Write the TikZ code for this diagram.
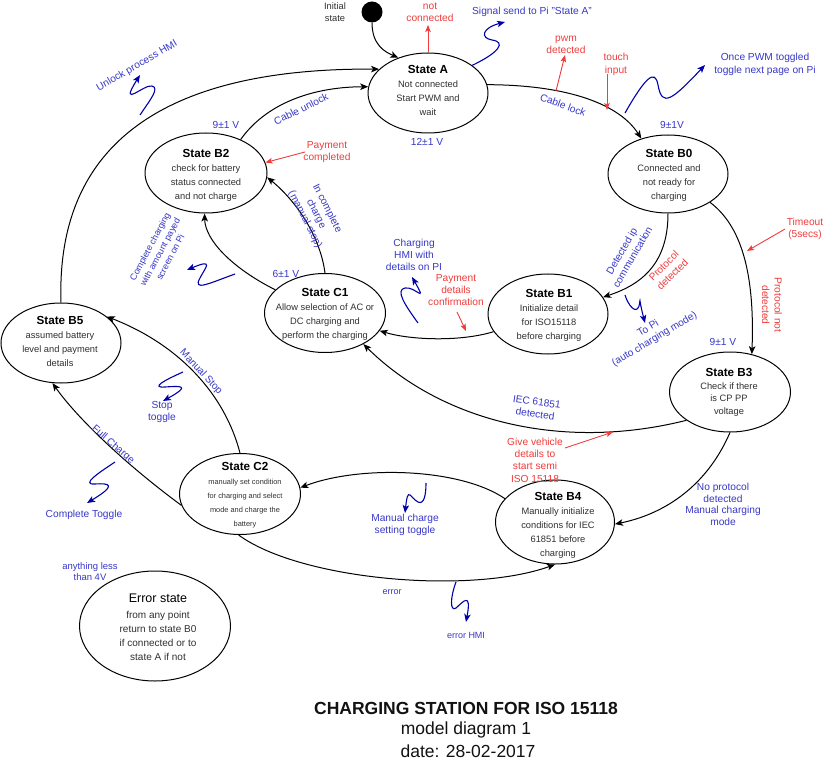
\documentclass[tikz,border=0pt]{standalone}
\usepackage{fontspec}
\setmainfont{Liberation Sans}
\usetikzlibrary{arrows.meta,shapes.geometric}
\definecolor{blueT}{HTML}{3838C8}
\definecolor{sqB}{HTML}{0000AA}
\definecolor{redT}{HTML}{F03C3C}
\definecolor{bodyT}{HTML}{303030}
\newcommand\mysttl[1]{{\fontsize{11.7}{14}\selectfont\bfseries\color{black}#1}}
\begin{document}
\begin{tikzpicture}[x=1pt,y=-1pt,
  stel/.style={draw=black, line width=1pt, ellipse, inner sep=0pt},
  stxt/.style={align=center, text=bodyT, inner sep=0pt, font=\fontsize{9.3}{14}\selectfont},
  bl/.style={align=center, text=blueT, inner sep=1pt, font=\fontsize{10.2}{12.3}\selectfont},
  rd/.style={align=center, text=redT, inner sep=1pt, font=\fontsize{10.2}{12.3}\selectfont},
  conn/.style={draw=black, line width=1pt, -{Stealth[length=8pt,width=6.5pt,inset=2pt]}},
  sq/.style={draw=sqB, line width=1.1pt, -{Stealth[length=8pt,width=6.5pt,inset=2pt]}},
  ra/.style={draw=redT, line width=0.9pt, -{Stealth[length=7pt,width=5.5pt,inset=1.5pt]}},
  bigt/.style={align=center, text=black!93, inner sep=0pt, font=\fontsize{17.5}{21}\selectfont}
]
\useasboundingbox[fill=white] (0,0) rectangle (826,775);

% initial state
\node[circle, fill=black, minimum size=21pt, inner sep=0pt] (init) at (372,12) {};
\node[stxt, font=\fontsize{9.3}{12}\selectfont] (initT) at (335,12) {Initial\\state};

% states
\node[stel, minimum width=120pt, minimum height=80pt] (A) at (428,93) {};
\node[stxt] (At) at (428,90.5) {\mysttl{State A}\\Not connected\\Start PWM and\\wait};

\node[stel, minimum width=120pt, minimum height=78pt] (B0) at (668,174) {};
\node[stxt] (B0t) at (669,175.5) {\mysttl{State B0}\\Connected and\\not ready for\\charging};

\node[stel, minimum width=122pt, minimum height=80pt] (B2) at (206,173) {};
\node[stxt] (B2t) at (206,175.5) {\mysttl{State B2}\\check for battery\\status connected\\and not charge};

\node[stel, minimum width=121pt, minimum height=79pt] (C1) at (325,313) {};
\node[stxt] (C1t) at (325,314.5) {\mysttl{State C1}\\Allow selection of AC or\\DC charging and\\perform the charging};

\node[stel, minimum width=120pt, minimum height=80pt] (B1) at (548,314) {};
\node[stxt] (B1t) at (549,315.5) {\mysttl{State B1}\\Initialize detail\\for ISO15118\\before charging};

\node[stel, minimum width=121pt, minimum height=80pt] (B3) at (730,392) {};
\node[stxt, font=\fontsize{9.3}{12.2}\selectfont] (B3t) at (729,392) {\mysttl{State B3}\\[1.5pt]Check if there\\is CP PP\\voltage};

\node[stel, minimum width=120pt, minimum height=80pt] (B5) at (61,343) {};
\node[stxt] (B5t) at (60,341.5) {\mysttl{State B5}\\assumed battery\\level and payment\\details};

\node[stel, minimum width=121pt, minimum height=81pt] (C2) at (240,494) {};
\node[stxt, font=\fontsize{7.4}{14}\selectfont] (C2t) at (245,495.5) {\mysttl{State C2}\\manually set condition\\for charging and select\\mode and charge the\\battery};

\node[stel, minimum width=119pt, minimum height=84pt] (B4) at (555,522) {};
\node[stxt] (B4t) at (558,525.5) {\mysttl{State B4}\\Manually initialize\\conditions for IEC\\61851 before\\charging};

\node[stel, minimum width=151pt, minimum height=110pt] (Er) at (155,626) {};
\node[stxt, font=\fontsize{10}{14}\selectfont] (Ert) at (158,627) {{\fontsize{12.5}{14}\selectfont\color{black}Error state}\\[2pt]from any point\\return to state B0\\if connected or to\\state A if not};

% main transitions
\draw[conn] (init.south) .. controls (372,45) and (385,52) .. (A.130);
\draw[conn] (B5.north) .. controls (55,120) and (200,68) .. (A.154);
\draw[conn] (B2.44) .. controls (265,105) and (310,87) .. (A.174);
\draw[conn] (A.8) .. controls (570,85) and (620,105) .. (B0.127);
\draw[conn] (B0.270) .. controls (668,265) and (640,285) .. (B1.17);
\draw[conn] (B0.-34) .. controls (740,225) and (755,270) .. (B3.60);
\draw[conn] (B1.198) .. controls (460,342) and (410,340) .. (C1.-18);
\draw[conn] (C1.155) .. controls (232,268) and (205,240) .. (B2.268);
\draw[conn] (C1.90) .. controls (320,235) and (295,200) .. (B2.-4);
\draw[conn] (C2.90) .. controls (225,395) and (180,345) .. (B5.30);
\draw[conn] (C2.191) .. controls (120,460) and (75,415) .. (B5.258);
\draw[conn] (B3.213) .. controls (560,452) and (440,420) .. (C1.-39);
\draw[conn] (B3.270) .. controls (705,490) and (660,515) .. (B4.-2);
\draw[conn] (B4.155) .. controls (460,468) and (360,465) .. (C2.6);
\draw[conn] (C2.268) .. controls (300,580) and (470,595) .. (B4.270);

% blue labels
\node[bl] (sigA) at (532,12) {Signal send to Pi "State A"};
\node[bl] (onceP) at (765,64.5) {Once PWM toggled\\toggle next page on Pi};
\node[bl] (v12) at (427,142) {12±1 V};
\node[bl] (v9a) at (672,125) {9±1V};
\node[bl] (v9b) at (226,125) {9±1 V};
\node[bl] (v6) at (286,274) {6±1 V};
\node[bl] (v9c) at (723,342) {9±1 V};
\node[bl, rotate=30] (unl) at (137,66) {Unlock process HMI};
\node[bl, rotate=26] (cunl) at (301,109) {Cable unlock};
\node[bl, rotate=-20] (clk) at (563,105) {Cable lock};
\node[bl, rotate=-63] (incmp) at (316,214) {In complete\\charge\\(manual stop)};
\node[bl, rotate=62, font=\fontsize{9}{11.5}\selectfont] (cchg) at (160,252) {Complete charging\\with amount payed\\screen on Pi};
\node[bl] (chmi) at (414,255) {Charging\\HMI with\\details on PI};
\node[bl, rotate=60] (detip) at (627,254) {Detected ip\\communication};
\node[bl, rotate=31] (topi) at (651.5,334) {To Pi\\(auto charging mode)};
\node[bl, rotate=-8] (iec) at (536,408) {IEC 61851\\detected};
\node[bl, font=\fontsize{10.2}{11.7}\selectfont] (nopr) at (723,504.5) {No protocol\\detected\\Manual charging\\mode};
\node[bl, rotate=-47] (mstop) at (201,372) {Manual Stop};
\node[bl] (stoptg) at (162,412) {Stop\\toggle};
\node[bl, rotate=-41] (fullc) at (113,445) {Full Charge};
\node[bl] (ctog) at (84,515) {Complete Toggle};
\node[bl] (mcst) at (405,525) {Manual charge\\setting toggle};
\node[bl, font=\fontsize{9}{11}\selectfont] (errl) at (392,592) {error};
\node[bl, font=\fontsize{9}{11}\selectfont] (errhmi) at (466,635) {error HMI};
\node[bl, font=\fontsize{9.5}{11}\selectfont] (anyl) at (90,572) {anything less\\than 4V};

% red labels
\node[rd] (nc) at (430,12) {not\\connected};
\node[rd] (pwm) at (566,45) {pwm\\detected};
\node[rd] (tch) at (616,64.5) {touch\\input};
\node[rd] (paycomp) at (327,152) {Payment\\completed};
\node[rd] (paydet) at (456,290) {Payment\\details\\confirmation};
\node[rd, rotate=45] (protd) at (668,270) {Protocol\\detected};
\node[rd] (tmo) at (805,229) {Timeout\\(5secs)};
\node[rd, rotate=-90] (protnd) at (772,305) {Protocol not\\detected};
\node[rd] (give) at (535,460) {Give vehicle\\details to\\start semi\\ISO 15118};

% red annotation arrows
\coordinate (ncH) at (428,25);
\coordinate (pwmT) at (556,91);
\coordinate (pwmH) at (565,55);
\coordinate (tchT) at (607,74);
\coordinate (tchH) at (607,110);
\coordinate (pcT) at (305,152);
\coordinate (pdT) at (457,312);
\coordinate (pdH) at (466,331);
\coordinate (tmT) at (785,229);
\coordinate (tmH) at (747,251);
\coordinate (gvT) at (565,448);
\coordinate (gvH) at (613,432);
\draw[ra] (A.north) -- (ncH);
\draw[ra] (pwmT) -- (pwmH);
\draw[ra] (tchT) -- (tchH);
\draw[ra] (pcT) -- (B2.10);
\draw[ra] (pdT) -- (pdH);
\draw[ra] (tmT) -- (tmH);
\draw[ra] (gvT) -- (gvH);

% blue squiggle arrows
\coordinate (s1H) at (505,22);
\coordinate (s2T) at (625,113);
\coordinate (s2H) at (705,65);
\coordinate (s3T) at (140,115);
\coordinate (s3H) at (140,75);
\coordinate (s4T) at (418,323);
\coordinate (s4H) at (412,277);
\coordinate (s5T) at (625,295);
\coordinate (s5H) at (645,323);
\coordinate (s6T) at (235,274);
\coordinate (s6H) at (187,270);
\coordinate (s7T) at (183,372);
\coordinate (s7H) at (163,401);
\coordinate (s8T) at (115,462);
\coordinate (s8H) at (87,503);
\coordinate (s9T) at (426,483);
\coordinate (s9H) at (405,513);
\coordinate (s10T) at (456,582);
\coordinate (s10H) at (466,622);
\draw[sq] (A.32) .. controls (500,52) and (506,42) .. (492,40) .. controls (480,38) and (482,28) .. (s1H);
\draw[sq] (s2T) .. controls (645,78) and (655,68) .. (658,85) .. controls (662,108) and (672,100) .. (s2H);
\draw[sq] (s3T) .. controls (150,100) and (160,88) .. (152,86) .. controls (144,84) and (118,110) .. (s3H);
\draw[sq] (s4T) .. controls (405,305) and (395,290) .. (405,288) .. controls (415,286) and (428,305) .. (s4H);
\draw[sq] (s5T) .. controls (628,305) and (636,315) .. (639,306) .. controls (641,298) and (638,296) .. (s5H);
\draw[sq] (s6T) .. controls (210,283) and (192,292) .. (200,278) .. controls (205,268) and (215,258) .. (s6H);
\draw[sq] (s7T) .. controls (165,380) and (150,388) .. (165,387) .. controls (180,386) and (192,385) .. (s7H);
\draw[sq] (s8T) .. controls (100,472) and (80,485) .. (95,484) .. controls (110,483) and (117,485) .. (s8H);
\draw[sq] (s9T) .. controls (426,495) and (424,505) .. (418,502) .. controls (410,498) and (408,485) .. (s9H);
\draw[sq] (s10T) .. controls (450,598) and (450,612) .. (456,608) .. controls (462,603) and (472,590) .. (s10H);

% title
\node[bigt, font=\fontsize{17.5}{21}\selectfont\bfseries] (ttl) at (466,708) {CHARGING STATION FOR ISO 15118};
\node[bigt] (sub1) at (466,730) {model diagram 1};
\node[bigt] (sub2) at (468,751) {date: 28-02-2017};
\end{tikzpicture}
\end{document}
